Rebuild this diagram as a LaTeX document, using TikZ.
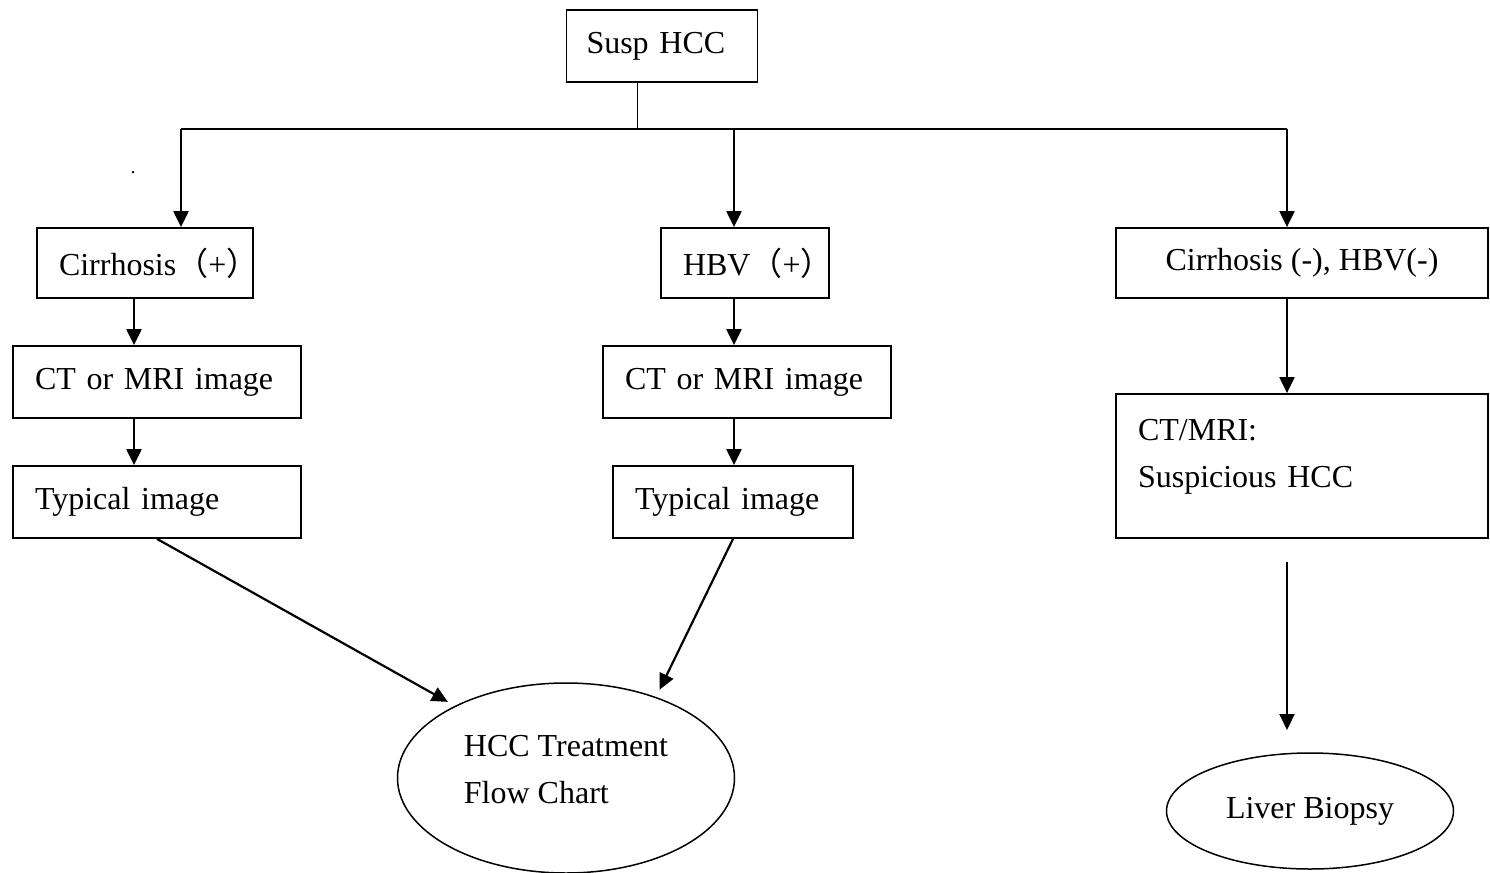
\documentclass[tikz,border=0pt]{standalone}
\usepackage{fontspec}
\setmainfont{Liberation Serif}
\newfontfamily\cjkfont{Noto Sans CJK SC}
\usetikzlibrary{arrows.meta,shapes.geometric}

\newcommand{\flowfont}{\fontsize{16}{23.5}\selectfont\spaceskip 4pt\relax}

\tikzstyle{flow-box}=[draw, rectangle, line width=0.9pt, minimum height=36pt, inner ysep=0pt, inner xsep=11pt, align=left, font=\flowfont]
\tikzstyle{flow-ellipse}=[draw, ellipse, line width=0.75pt, inner sep=0pt, font=\flowfont]
\tikzstyle{flow-arrow}=[line width=1.1pt, -{Triangle[length=8pt,width=7.5pt]}]
\tikzstyle{flow-line}=[line width=1.1pt]

\begin{document}
\begin{tikzpicture}[x=0.5pt, y=-0.5pt]
      \useasboundingbox (0,0) rectangle (1490,873);

      \node (box-susp) at (662,46) [flow-box, inner xsep=10pt, text width=75.5pt] {Susp HCC};

      \node (box-cirrhosis) at (145,263) [flow-box, text width=86pt, minimum height=35pt] {Cirrhosis{\cjkfont（}+{\cjkfont）}};
      \node (box-hbv) at (745,263) [flow-box, text width=62pt, minimum height=35pt] {HBV{\cjkfont（}+{\cjkfont）}};
      \node (box-negative) at (1302,263) [flow-box, inner xsep=0pt, align=center, minimum width=186pt, minimum height=35pt] {Cirrhosis (-), HBV(-)};

      \node (box-ct-left) at (157,382) [flow-box, text width=122pt] {CT or MRI image};
      \node (box-ct-mid) at (747,382) [flow-box, text width=122pt] {CT or MRI image};
      \node (box-typical-left) at (157,502) [flow-box, text width=122pt] {Typical image};
      \node (box-typical-mid) at (733,502) [flow-box, text width=98pt] {Typical image};
      \node (box-ct-right) at (1302,466) [flow-box, text width=164pt, minimum height=72pt] {CT/MRI:\\Suspicious HCC\\[-10.5pt]\mbox{}};

      \node (end-treatment) at (566,778) [flow-ellipse, minimum width=168.5pt, minimum height=95pt, align=left] {HCC Treatment\\Flow Chart\\[-14.5pt]\mbox{}};
      \node (end-biopsy) at (1310,811) [flow-ellipse, minimum width=143.5pt, minimum height=58pt] {Liver Biopsy};

      \node (stray) at (133,173) [inner sep=0pt, font=\fontsize{10}{10}\selectfont] {.};

      % branching from the top box
      \coordinate (split) at (637,129);
      \coordinate (branch-left) at (181,129);
      \coordinate (branch-mid) at (734,129);
      \coordinate (branch-right) at (1287,129);
      \draw [line width=0.5pt] (split |- box-susp.south) -- (split);
      \draw [flow-line] (branch-left) -- (branch-right);
      \draw [flow-arrow] (branch-left) -- (branch-left |- box-cirrhosis.north);
      \draw [flow-arrow] (branch-mid) -- (branch-mid |- box-hbv.north);
      \draw [flow-arrow] (branch-right) -- (branch-right |- box-negative.north);

      % columns
      \coordinate (col-left) at (134,0);
      \draw [flow-arrow] (box-cirrhosis.south -| col-left) -- (box-ct-left.north -| col-left);
      \draw [flow-arrow] (box-ct-left.south -| col-left) -- (box-typical-left.north -| col-left);
      \draw [flow-arrow] (box-hbv.south -| branch-mid) -- (box-ct-mid.north -| branch-mid);
      \draw [flow-arrow] (box-ct-mid.south -| branch-mid) -- (box-typical-mid.north -| branch-mid);
      \draw [flow-arrow] (box-negative.south -| branch-right) -- (box-ct-right.north -| branch-right);

      \draw [flow-arrow, shorten >=4pt] (box-typical-left.south) -- (end-treatment.147);
      \draw [flow-arrow, shorten >=4pt] (box-typical-mid.south) -- (end-treatment.42);

      \coordinate (gap-top) at (1287,562);
      \coordinate (gap-bottom) at (1287,730);
      \draw [flow-arrow] (gap-top) -- (gap-bottom);
    \end{tikzpicture}
\end{document}
